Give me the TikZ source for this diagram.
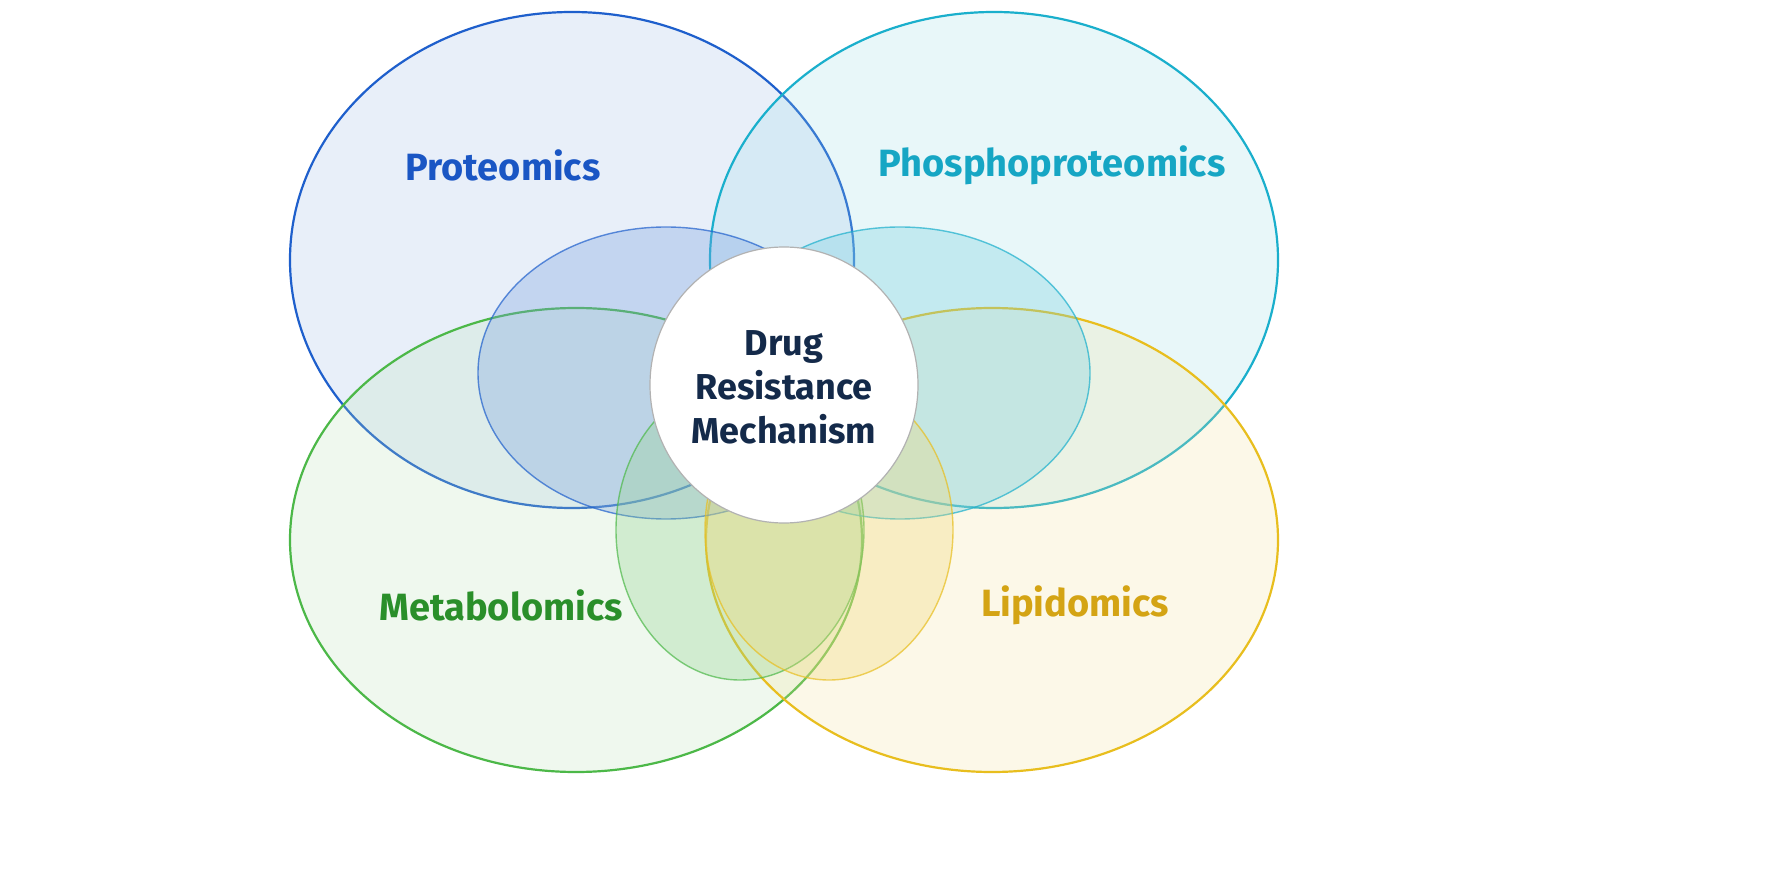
\documentclass[tikz,border=0pt]{standalone}
\usepackage{fontspec}
\setmainfont{Fira Sans}
\usetikzlibrary{shapes.geometric}
\definecolor{cP}{HTML}{1E5FCC}
\definecolor{cPh}{HTML}{1AAFCC}
\definecolor{cM}{HTML}{4CB848}
\definecolor{cL}{HTML}{E8BE1E}
\definecolor{cPt}{HTML}{1A56C4}
\definecolor{cPht}{HTML}{16A6C4}
\definecolor{cMt}{HTML}{2A8F2A}
\definecolor{cLt}{HTML}{D4A414}
\definecolor{dark}{HTML}{142A4A}
\begin{document}
\begin{tikzpicture}[x=0.5pt,y=-0.5pt,
 big/.style={line width=1.1pt,fill opacity=0.22},
 small/.style={line width=0.7pt,fill opacity=0.32,draw opacity=0.7},
 lab/.style={font=\fontsize{19}{22}\selectfont\bfseries}]
\useasboundingbox (0,0) rectangle (1774,887);
\fill[white] (0,0) rectangle (1774,887);
\draw[big,draw=cP,fill=cP!45] (572,260) ellipse [x radius=141pt,y radius=124pt];
\draw[big,draw=cPh,fill=cPh!45] (994,260) ellipse [x radius=142pt,y radius=124pt];
\draw[big,draw=cM,fill=cM!40] (576,540) ellipse [x radius=143pt,y radius=116pt];
\draw[big,draw=cL,fill=cL!45] (992,540) ellipse [x radius=143pt,y radius=116pt];
\draw[small,draw=cP,fill=cP!60] (666,373) ellipse [x radius=94pt,y radius=73pt];
\draw[small,draw=cPh,fill=cPh!60] (900,373) ellipse [x radius=95pt,y radius=73pt];
\draw[small,draw=cM,fill=cM!60] (740,530) ellipse [x radius=62pt,y radius=75pt];
\draw[small,draw=cL,fill=cL!60] (829,530) ellipse [x radius=62pt,y radius=75pt];
\node[draw=gray!60,line width=0.6pt,fill=white,ellipse,minimum width=134pt,minimum height=138pt,inner sep=0pt] (c) at (784,385) {};
\node[lab,text=cPt] (p) at (503,165) {Proteomics};
\node[lab,text=cPht] (ph) at (1052,165) {Phosphoproteomics};
\node[lab,text=cMt] (m) at (501,605) {Metabolomics};
\node[lab,text=cLt] (l) at (1075,605) {Lipidomics};
\node[font=\fontsize{18}{22}\selectfont\bfseries,text=dark,align=center] (t) at (784,387) {Drug\\Resistance\\Mechanism};
\end{tikzpicture}
\end{document}
